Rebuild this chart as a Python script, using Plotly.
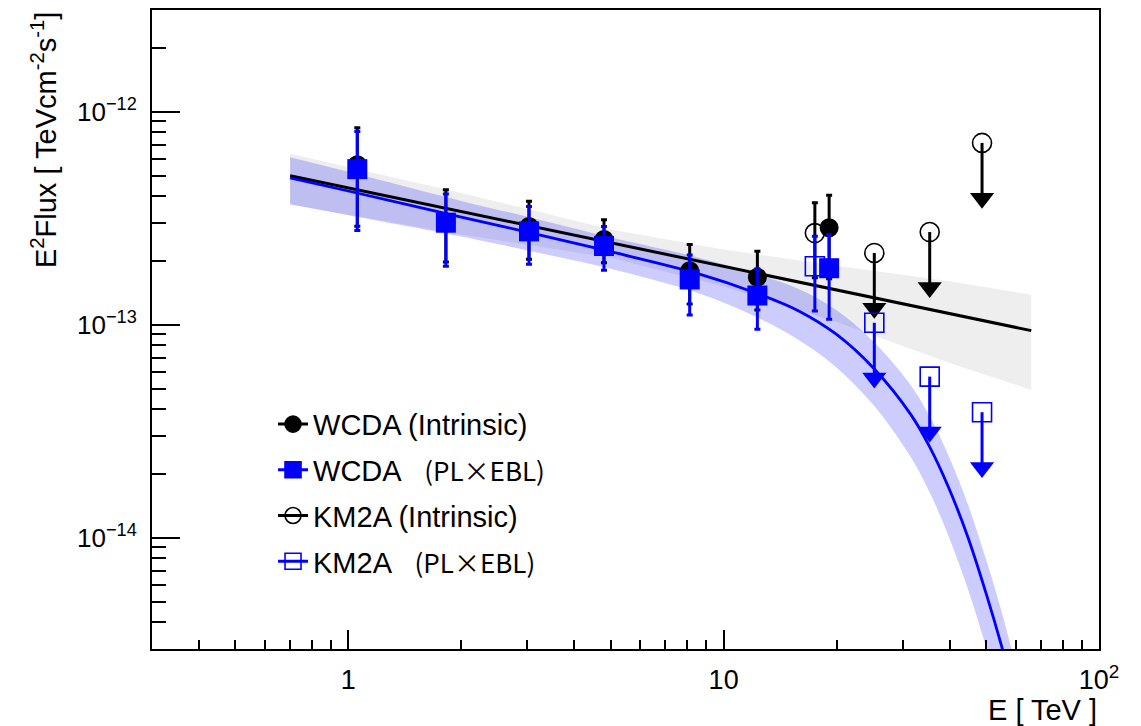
import math
import plotly.graph_objects as go

# ---------------- data (E in TeV, E^2 dN/dE in TeV cm^-2 s^-1) ----------------
# WCDA flux points
wcda_e = [1.057, 1.82, 3.03, 4.80, 8.12, 12.3, 19.1]
wcda_int = [5.63e-13, 3.00e-13, 2.89e-13, 2.51e-13, 1.79e-13, 1.67e-13, 2.85e-13]
wcda_int_hi = [8.40e-13, 4.30e-13, 3.80e-13, 3.11e-13, 2.38e-13, 2.21e-13, 4.05e-13]
wcda_int_lo = [2.90e-13, 1.97e-13, 2.03e-13, 1.95e-13, 1.25e-13, 1.17e-13, 1.64e-13]
wcda_ebl = [5.37e-13, 3.01e-13, 2.74e-13, 2.34e-13, 1.63e-13, 1.37e-13, 1.84e-13]
wcda_ebl_hi = [8.06e-13, 4.10e-13, 3.59e-13, 2.89e-13, 2.12e-13, 1.83e-13, 2.64e-13]
wcda_ebl_lo = [2.77e-13, 1.88e-13, 1.92e-13, 1.80e-13, 1.11e-13, 9.50e-14, 1.06e-13]

# KM2A flux point
km2a_e = [17.5]
km2a_int = [2.69e-13]
km2a_int_hi = [3.73e-13]
km2a_int_lo = [1.66e-13]
km2a_ebl = [1.88e-13]
km2a_ebl_hi = [2.60e-13]
km2a_ebl_lo = [1.16e-13]

# KM2A upper limits
km2a_ul_e = [25.2, 35.4, 48.8]
km2a_ul_int = [2.17e-13, 2.72e-13, 7.13e-13]
km2a_ul_ebl = [1.02e-13, 5.70e-14, 3.88e-14]

# intrinsic power-law fit and its band
pl_e = [0.7, 2.0, 5.0, 10.0, 20.0, 40.0, 66.0]
pl_flux = [5.00e-13, 3.40e-13, 2.43e-13, 1.88e-13, 1.46e-13, 1.13e-13, 9.37e-14]
pl_hi = [6.34e-13, 4.15e-13, 2.80e-13, 2.25e-13, 1.89e-13, 1.60e-13, 1.38e-13]
pl_lo = [3.66e-13, 2.65e-13, 2.06e-13, 1.51e-13, 1.03e-13, 6.60e-14, 4.94e-14]

# PL x EBL fit and its band
ebl_e = [0.7, 1.0, 2.0, 3.0, 5.0, 8.5, 12.3, 15.85, 19.95, 25.1, 31.6, 35.5,
         39.8, 44.7, 50.1, 55.0, 60.3]
ebl_flux = [4.89e-13, 4.24e-13, 3.20e-13, 2.72e-13, 2.20e-13, 1.74e-13, 1.40e-13,
            1.16e-13, 9.02e-14, 6.24e-14, 3.76e-14, 2.64e-14, 1.71e-14, 1.01e-14,
            5.43e-15, 3.10e-15, 1.66e-15]
ebl_hi = [6.11e-13, 5.22e-13, 3.81e-13, 3.21e-13, 2.57e-13, 2.07e-13, 1.72e-13,
          1.47e-13, 1.17e-13, 8.30e-14, 5.15e-14, 3.67e-14, 2.41e-14, 1.44e-14,
          7.82e-15, 4.50e-15, 2.42e-15]
ebl_lo = [3.67e-13, 3.26e-13, 2.59e-13, 2.23e-13, 1.83e-13, 1.41e-13, 1.08e-13,
          8.47e-14, 6.31e-14, 4.18e-14, 2.37e-14, 1.61e-14, 1.01e-14, 5.76e-15,
          3.04e-15, 1.71e-15, 8.96e-16]

# axis ticks
x_ticks = [1, 10, 100]
x_ticktext = ["1", "10", "10<sup>2</sup>"]
x_minor = [0.4, 0.5, 0.6, 0.7, 0.8, 0.9, 2, 3, 4, 5, 6, 7, 8, 9,
           20, 30, 40, 50, 60, 70, 80, 90]
y_ticks = [1e-14, 1e-13, 1e-12]
y_ticktext = ["10<sup>\u221214</sup>", "10<sup>\u221213</sup>", "10<sup>\u221212</sup>"]
y_minor = [4e-15, 5e-15, 6e-15, 7e-15, 8e-15, 9e-15,
           2e-14, 3e-14, 4e-14, 5e-14, 6e-14, 7e-14, 8e-14, 9e-14,
           2e-13, 3e-13, 4e-13, 5e-13, 6e-13, 7e-13, 8e-13, 9e-13,
           2e-12, 3e-12]

# ---------------- style ----------------
BLACK = "#000000"
BLUE = "#0000ff"
GREY_BAND = "#eeeeee"
BLUE_BAND = "rgba(0,0,255,0.2)"
FONT = "Liberation Sans"
CJK = "Noto Sans CJK SC"

W, H = 1141, 726
M = dict(l=152, r=42, t=8, b=77)
X_RANGE = [math.log10(0.3), 2.0]
Y_RANGE = [math.log10(3e-15), math.log10(3e-12)]
PX_PER_DEC = (H - M["t"] - M["b"]) / (Y_RANGE[1] - Y_RANGE[0])

ARROW_PX = 66      # length of an upper-limit arrow
HEAD_SIZE = 21     # arrow head (triangle) size


def shift_down(v, px):
    """Value lying px pixels below v on the log flux axis."""
    return v * 10 ** (-px / PX_PER_DEC)


def err(y, hi, lo):
    return dict(type="data", symmetric=False,
                array=[h - v for v, h in zip(y, hi)],
                arrayminus=[v - l for v, l in zip(y, lo)],
                thickness=3, width=3)


fig = go.Figure()

# grey band of the intrinsic fit
fig.add_trace(go.Scatter(x=pl_e, y=pl_lo, mode="lines", line=dict(width=0),
                         hoverinfo="skip", showlegend=False))
fig.add_trace(go.Scatter(x=pl_e, y=pl_hi, mode="lines", line=dict(width=0),
                         fill="tonexty", fillcolor=GREY_BAND,
                         hoverinfo="skip", showlegend=False))
# blue band of the PL x EBL fit
fig.add_trace(go.Scatter(x=ebl_e, y=ebl_lo, mode="lines",
                         line=dict(width=0, shape="spline"),
                         hoverinfo="skip", showlegend=False))
fig.add_trace(go.Scatter(x=ebl_e, y=ebl_hi, mode="lines",
                         line=dict(width=0, shape="spline"),
                         fill="tonexty", fillcolor=BLUE_BAND,
                         hoverinfo="skip", showlegend=False))
# fit lines
fig.add_trace(go.Scatter(x=pl_e, y=pl_flux, mode="lines",
                         line=dict(color=BLACK, width=3), showlegend=False))
fig.add_trace(go.Scatter(x=ebl_e, y=ebl_flux, mode="lines",
                         line=dict(color=BLUE, width=2.8, shape="spline"),
                         showlegend=False))

# WCDA points
fig.add_trace(go.Scatter(x=wcda_e, y=wcda_int, mode="markers",
                         marker=dict(symbol="circle", size=19, color=BLACK),
                         error_y=dict(err(wcda_int, wcda_int_hi, wcda_int_lo), color=BLACK),
                         showlegend=False))
fig.add_trace(go.Scatter(x=wcda_e, y=wcda_ebl, mode="markers",
                         marker=dict(symbol="square", size=20, color=BLUE),
                         error_y=dict(err(wcda_ebl, wcda_ebl_hi, wcda_ebl_lo), color=BLUE),
                         showlegend=False))

# KM2A points
fig.add_trace(go.Scatter(x=km2a_e, y=km2a_int, mode="markers",
                         marker=dict(symbol="circle-open", size=19, color=BLACK,
                                     line=dict(width=1.6, color=BLACK)),
                         error_y=dict(err(km2a_int, km2a_int_hi, km2a_int_lo), color=BLACK),
                         showlegend=False))
fig.add_trace(go.Scatter(x=km2a_e, y=km2a_ebl, mode="markers",
                         marker=dict(symbol="square-open", size=19, color=BLUE,
                                     line=dict(width=1.6, color=BLUE)),
                         error_y=dict(err(km2a_ebl, km2a_ebl_hi, km2a_ebl_lo), color=BLUE),
                         showlegend=False))


def upper_limits(xs, ys, color, symbol):
    head_px = ARROW_PX - HEAD_SIZE / 2
    sx, sy = [], []
    for x, y in zip(xs, ys):
        sx += [x, x, None]
        sy += [y, shift_down(y, head_px), None]
    fig.add_trace(go.Scatter(x=sx, y=sy, mode="lines",
                             line=dict(color=color, width=3), showlegend=False))
    fig.add_trace(go.Scatter(x=xs, y=[shift_down(y, head_px) for y in ys], mode="markers",
                             marker=dict(symbol="triangle-down", size=HEAD_SIZE, color=color,
                                         line=dict(width=0)),
                             showlegend=False))
    fig.add_trace(go.Scatter(x=xs, y=ys, mode="markers",
                             marker=dict(symbol=symbol, size=19, color=color,
                                         line=dict(width=1.6, color=color)),
                             showlegend=False))


upper_limits(km2a_ul_e, km2a_ul_int, BLACK, "circle-open")
upper_limits(km2a_ul_e, km2a_ul_ebl, BLUE, "square-open")

# legend entries
ebl_tag = ('<span style="font-family:%s;font-size:26px">(PL\u00d7EBL)</span>' % CJK)
legend_rows = [
    ("WCDA (Intrinsic)", BLACK, "circle"),
    ("WCDA   " + ebl_tag, BLUE, "square"),
    ("KM2A (Intrinsic)", BLACK, "circle-open"),
    ("KM2A   " + ebl_tag, BLUE, "square-open"),
]
for i, (name, color, symbol) in enumerate(legend_rows):
    fig.add_trace(go.Scatter(x=[None], y=[None], mode="lines+markers", name=name,
                             legendgroup="g%d" % i,
                             line=dict(color=color, width=3),
                             marker=dict(symbol=symbol, size=16, color=color,
                                         line=dict(width=1.6, color=color))))

axis_common = dict(
    type="log", showgrid=False, zeroline=False,
    showline=True, linecolor=BLACK, linewidth=2, mirror=True,
    ticks="inside", tickwidth=2, tickcolor=BLACK,
    tickmode="array",
)

fig.update_xaxes(
    **axis_common, range=X_RANGE, ticklen=19,
    tickvals=x_ticks, ticktext=x_ticktext,
    tickfont=dict(family=FONT, size=27, color=BLACK),
    ticklabelstandoff=6,
    minor=dict(tickmode="array", tickvals=x_minor, ticks="inside", ticklen=9,
               tickwidth=2, tickcolor=BLACK, showgrid=False),
)
fig.update_yaxes(
    **axis_common, range=Y_RANGE, ticklen=28,
    tickvals=y_ticks, ticktext=y_ticktext,
    tickfont=dict(family=FONT, size=26, color=BLACK),
    ticklabelstandoff=8,
    minor=dict(tickmode="array", tickvals=y_minor, ticks="inside", ticklen=14,
               tickwidth=2, tickcolor=BLACK, showgrid=False),
)

fig.update_layout(
    width=W, height=H, autosize=False, margin=M,
    paper_bgcolor="white", plot_bgcolor="white",
    showlegend=True,
    legend=dict(x=0.1278, y=0.3916, xanchor="left", yanchor="top",
                font=dict(family=FONT, size=29, color=BLACK),
                bgcolor="rgba(0,0,0,0)", borderwidth=0, tracegroupgap=5,
                itemwidth=30),
    annotations=[
        dict(text="E<sup>2</sup>Flux [ TeVcm<sup>-2</sup>s<sup>-1</sup>]",
             xref="paper", yref="paper", x=-0.114, y=1.0,
             xanchor="center", yanchor="top", textangle=-90, showarrow=False,
             font=dict(family=FONT, size=29, color=BLACK)),
        dict(text="E [ TeV ]", xref="paper", yref="paper", x=1.0, y=-0.095,
             xanchor="right", yanchor="middle", showarrow=False,
             font=dict(family=FONT, size=29, color=BLACK)),
    ],
)

fig.write_html("out.html")
